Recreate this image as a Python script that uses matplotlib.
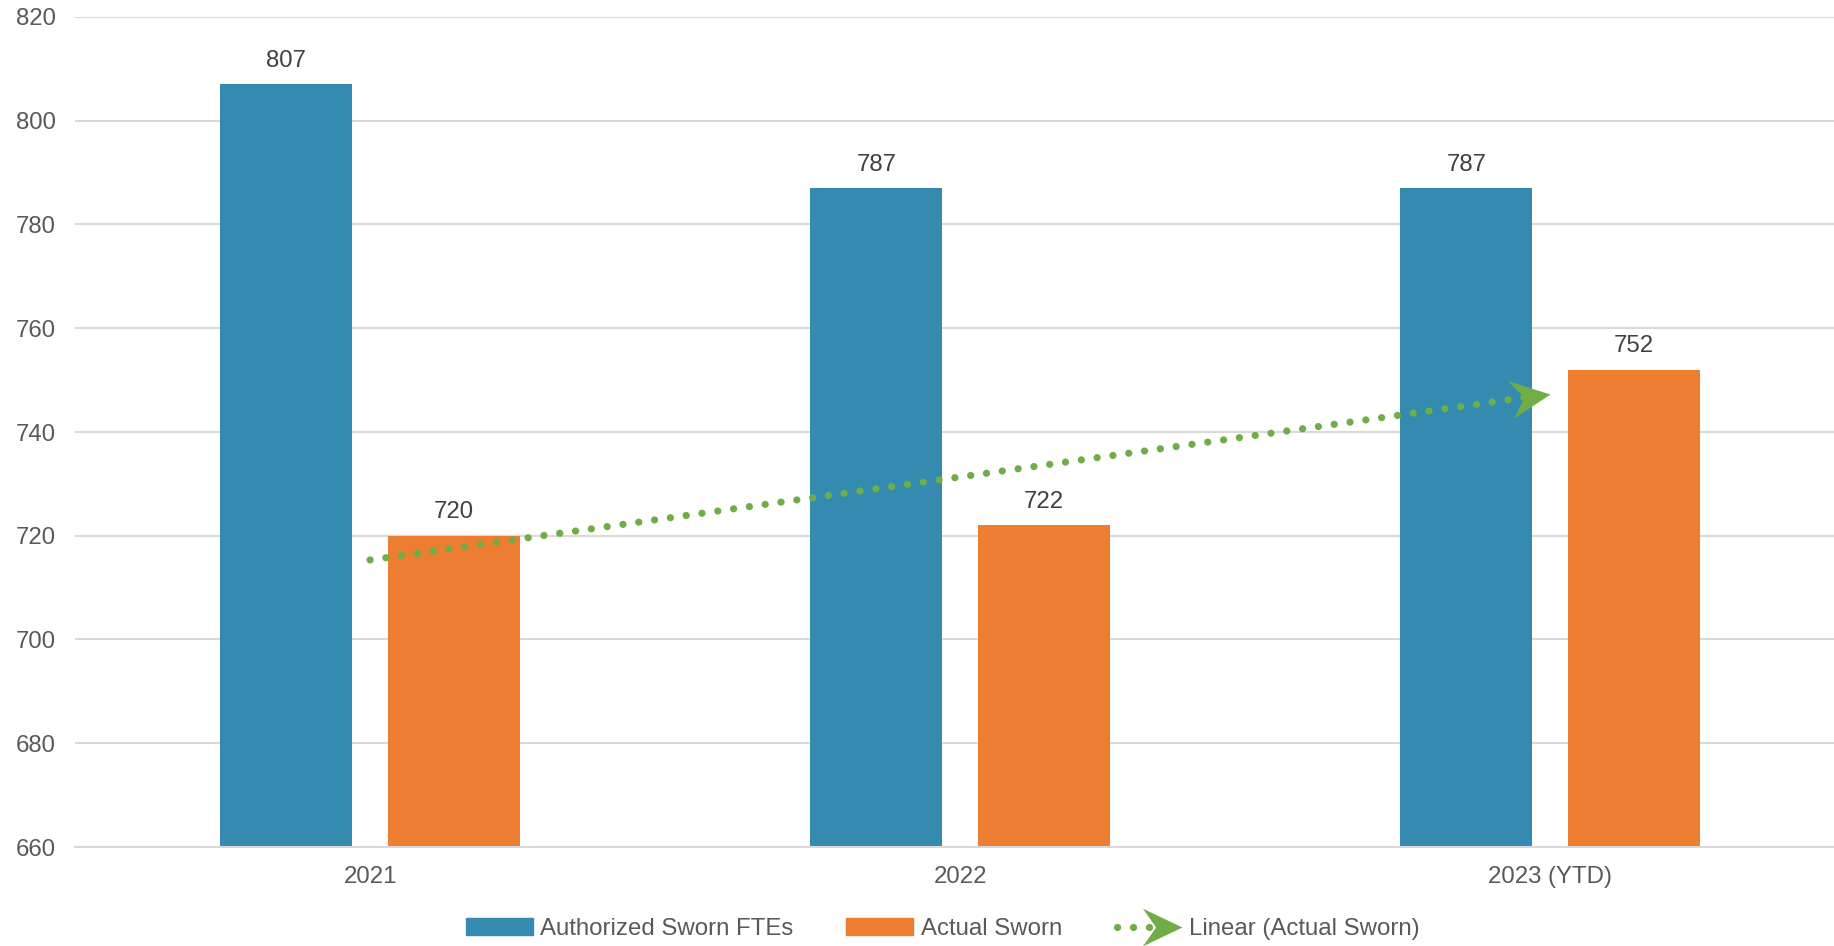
import numpy as np
import matplotlib.pyplot as plt
from matplotlib.lines import Line2D
from matplotlib.patches import Patch
from matplotlib.markers import MarkerStyle
from matplotlib.transforms import Affine2D

plt.rcParams['font.family'] = ['Liberation Sans', 'DejaVu Sans']

# data
years = ['2021', '2022', '2023 (YTD)']
authorized = [807, 787, 787]
actual = [720, 722, 752]

BLUE = '#358AB0'
ORANGE = '#ED7D31'
GREEN = '#70AD47'
FS = 17.3
DOTS = (0, (0.01, 2.2))
ARROW = [(0, 0), (-2.1, 1), (-1.4, 0), (-2.1, -1)]
ARROW_MS = 57


class ArrowLineHandler:
    # dotted line with a stealth arrow head at its right end
    def legend_artist(self, legend, orig_handle, fontsize, handlebox):
        x0, y0 = handlebox.xdescent, handlebox.ydescent
        w, h = handlebox.width, handlebox.height
        ym = -y0 + h / 2
        xe = -x0 + w
        line = Line2D([-x0 + 2, xe - 8], [ym, ym], color=GREEN, lw=5.2,
                      linestyle=DOTS, dash_capstyle='round')
        tip = Line2D([xe], [ym], linestyle='none', color=GREEN,
                     marker=MarkerStyle(ARROW), markersize=ARROW_MS, markeredgewidth=0)
        handlebox.add_artist(line)
        handlebox.add_artist(tip)
        return line


fig = plt.figure(figsize=(18.34, 9.46), dpi=100)
ax = fig.add_axes([75/1834, 1-847/946, 1-75/1834, (847-17)/946])

x = np.arange(len(years))
w = 0.224
off = 0.142
b1 = ax.bar(x - off, authorized, w, color=BLUE, zorder=2)
b2 = ax.bar(x + off, actual, w, color=ORANGE, zorder=2)

ax.set_xlim(-0.5, 2.481)
ax.set_ylim(660, 820)
ax.set_yticks(np.arange(660, 821, 20))
ax.set_xticks(x, years)
ax.yaxis.grid(True, color='#D9D9D9', lw=1.5)
ax.set_axisbelow(True)
for s in ['top', 'right', 'left']:
    ax.spines[s].set_visible(False)
ax.spines['bottom'].set_color('#D9D9D9')
ax.spines['bottom'].set_linewidth(1.5)
ax.tick_params(axis='y', length=0, pad=14, labelsize=FS, labelcolor='#595959')
ax.tick_params(axis='x', length=0, pad=13.5, labelsize=FS, labelcolor='#595959')

# data labels
for bars in (b1, b2):
    for r in bars:
        ax.annotate(f'{r.get_height():.0f}', (r.get_x() + r.get_width()/2, r.get_height()),
                    xytext=(0, 9), textcoords='offset points', ha='center', va='bottom',
                    fontsize=FS, color='#404040')

# linear trendline of actual sworn
slope, icpt = np.polyfit(x, actual, 1)
tx = np.array([x[0], x[-1]])
ty = slope * tx + icpt
ax.plot(tx, ty, color=GREEN, lw=5.2, linestyle=DOTS, dash_capstyle='round', zorder=3)

p0 = ax.transData.transform((tx[0], ty[0]))
p1 = ax.transData.transform((tx[1], ty[1]))
ang = np.degrees(np.arctan2(p1[1] - p0[1], p1[0] - p0[0]))
ax.plot([tx[1]], [ty[1]], linestyle='none', color=GREEN, markersize=ARROW_MS, markeredgewidth=0,
        marker=MarkerStyle(ARROW, transform=Affine2D().rotate_deg(ang)), zorder=4)

trend_proxy = Line2D([], [], color=GREEN)
handles = [Patch(color=BLUE), Patch(color=ORANGE), trend_proxy]
leg = fig.legend(handles, ['Authorized Sworn FTEs', 'Actual Sworn', 'Linear (Actual Sworn)'],
                 loc='center', bbox_to_anchor=(0.514, 0.018), ncol=3, frameon=False,
                 handlelength=2.8, handletextpad=0.3, columnspacing=2.2, fontsize=FS,
                 handler_map={trend_proxy: ArrowLineHandler()})
for t in leg.get_texts():
    t.set_color('#595959')

fig.savefig('out.png', dpi=100)
